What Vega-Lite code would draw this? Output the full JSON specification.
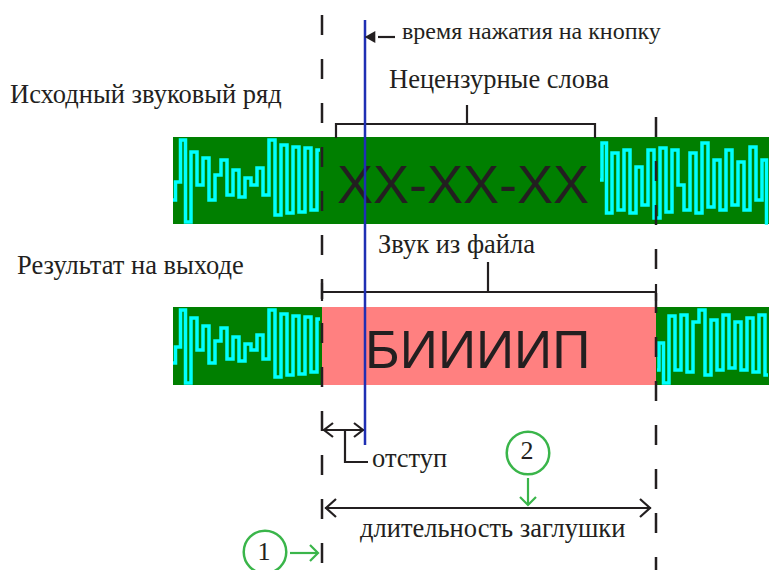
{
  "$schema": "https://vega.github.io/schema/vega-lite/v6.json",
  "width": 769,
  "height": 570,
  "padding": 0,
  "autosize": {"type": "none"},
  "background": "white",
  "config": {"view": {"stroke": null}},
  "datasets": {
    "bars": [
      {"x": 173, "x2": 769, "y": 137, "y2": 224, "k": "sound"},
      {"x": 173, "x2": 322, "y": 307, "y2": 385, "k": "sound"},
      {"x": 656, "x2": 769, "y": 307, "y2": 385, "k": "sound"},
      {"x": 322, "x2": 656, "y": 307, "y2": 385, "k": "beep"}
    ],
    "waves": [
      {"s":"a","x":173,"y":200},{"s":"a","x":178,"y":182},{"s":"a","x":183,"y":140},{"s":"a","x":188,"y":222},{"s":"a","x":194,"y":152},{"s":"a","x":200,"y":185},{"s":"a","x":206,"y":158},{"s":"a","x":212,"y":200},{"s":"a","x":218,"y":175},{"s":"a","x":224,"y":160},{"s":"a","x":230,"y":195},{"s":"a","x":236,"y":170},{"s":"a","x":242,"y":197},{"s":"a","x":248,"y":178},{"s":"a","x":254,"y":185},{"s":"a","x":260,"y":168},{"s":"a","x":266,"y":195},{"s":"a","x":272,"y":140},{"s":"a","x":278,"y":215},{"s":"a","x":284,"y":145},{"s":"a","x":290,"y":213},{"s":"a","x":296,"y":147},{"s":"a","x":302,"y":212},{"s":"a","x":308,"y":148},{"s":"a","x":314,"y":210},{"s":"a","x":320,"y":150},
      {"s":"b","x":600,"y":180},{"s":"b","x":604,"y":143},{"s":"b","x":609,"y":213},{"s":"b","x":615,"y":153},{"s":"b","x":621,"y":210},{"s":"b","x":627,"y":150},{"s":"b","x":633,"y":213},{"s":"b","x":639,"y":167},{"s":"b","x":645,"y":205},{"s":"b","x":651,"y":150},{"s":"b","x":657,"y":218},{"s":"b","x":663,"y":148},{"s":"b","x":669,"y":212},{"s":"b","x":675,"y":150},{"s":"b","x":681,"y":185},{"s":"b","x":687,"y":210},{"s":"b","x":693,"y":153},{"s":"b","x":699,"y":213},{"s":"b","x":705,"y":143},{"s":"b","x":711,"y":207},{"s":"b","x":717,"y":160},{"s":"b","x":723,"y":210},{"s":"b","x":729,"y":150},{"s":"b","x":735,"y":205},{"s":"b","x":741,"y":162},{"s":"b","x":747,"y":210},{"s":"b","x":753,"y":147},{"s":"b","x":759,"y":200},{"s":"b","x":765,"y":160},{"s":"b","x":768,"y":223},
      {"s":"c","x":173,"y":363},{"s":"c","x":178,"y":347},{"s":"c","x":183,"y":310},{"s":"c","x":188,"y":383},{"s":"c","x":194,"y":318},{"s":"c","x":200,"y":350},{"s":"c","x":206,"y":326},{"s":"c","x":212,"y":363},{"s":"c","x":218,"y":341},{"s":"c","x":224,"y":328},{"s":"c","x":230,"y":359},{"s":"c","x":236,"y":337},{"s":"c","x":242,"y":361},{"s":"c","x":248,"y":344},{"s":"c","x":254,"y":350},{"s":"c","x":260,"y":335},{"s":"c","x":266,"y":359},{"s":"c","x":272,"y":310},{"s":"c","x":278,"y":377},{"s":"c","x":284,"y":314},{"s":"c","x":290,"y":375},{"s":"c","x":296,"y":316},{"s":"c","x":302,"y":374},{"s":"c","x":308,"y":317},{"s":"c","x":314,"y":372},{"s":"c","x":320,"y":319},
      {"s":"d","x":657,"y":370},{"s":"d","x":661,"y":343},{"s":"d","x":666,"y":383},{"s":"d","x":672,"y":316},{"s":"d","x":678,"y":370},{"s":"d","x":684,"y":315},{"s":"d","x":690,"y":372},{"s":"d","x":696,"y":322},{"s":"d","x":702,"y":310},{"s":"d","x":708,"y":375},{"s":"d","x":714,"y":320},{"s":"d","x":720,"y":370},{"s":"d","x":726,"y":315},{"s":"d","x":732,"y":368},{"s":"d","x":738,"y":322},{"s":"d","x":744,"y":370},{"s":"d","x":750,"y":318},{"s":"d","x":756,"y":372},{"s":"d","x":762,"y":315},{"s":"d","x":768,"y":375}
    ],
    "paths": [
      {"id":"br1","c":"k","o":1,"x":336,"y":138},{"id":"br1","c":"k","o":2,"x":336,"y":124},{"id":"br1","c":"k","o":3,"x":595,"y":124},{"id":"br1","c":"k","o":4,"x":595,"y":138},
      {"id":"br1t","c":"k","o":1,"x":467,"y":105},{"id":"br1t","c":"k","o":2,"x":467,"y":124},
      {"id":"br2","c":"k","o":1,"x":322,"y":292},{"id":"br2","c":"k","o":2,"x":656,"y":292},
      {"id":"br2l","c":"k","o":1,"x":322,"y":283},{"id":"br2l","c":"k","o":2,"x":322,"y":301},
      {"id":"br2r","c":"k","o":1,"x":656,"y":284},{"id":"br2r","c":"k","o":2,"x":656,"y":301},
      {"id":"br2t","c":"k","o":1,"x":488,"y":262},{"id":"br2t","c":"k","o":2,"x":488,"y":292},
      {"id":"pt","c":"k","o":1,"x":378,"y":37},{"id":"pt","c":"k","o":2,"x":395,"y":37},
      {"id":"ot","c":"k","o":1,"x":323,"y":430},{"id":"ot","c":"k","o":2,"x":364,"y":430},
      {"id":"otl","c":"k","o":1,"x":333,"y":423},{"id":"otl","c":"k","o":2,"x":324,"y":430},{"id":"otl","c":"k","o":3,"x":333,"y":437},
      {"id":"otr","c":"k","o":1,"x":354,"y":423},{"id":"otr","c":"k","o":2,"x":363,"y":430},{"id":"otr","c":"k","o":3,"x":354,"y":437},
      {"id":"ld","c":"k","o":1,"x":345,"y":430},{"id":"ld","c":"k","o":2,"x":345,"y":462},{"id":"ld","c":"k","o":3,"x":368,"y":462},
      {"id":"dl","c":"k","o":1,"x":325,"y":508},{"id":"dl","c":"k","o":2,"x":651,"y":508},
      {"id":"dll","c":"k","o":1,"x":336,"y":499},{"id":"dll","c":"k","o":2,"x":326,"y":508},{"id":"dll","c":"k","o":3,"x":336,"y":517},
      {"id":"dlr","c":"k","o":1,"x":640,"y":499},{"id":"dlr","c":"k","o":2,"x":650,"y":508},{"id":"dlr","c":"k","o":3,"x":640,"y":517},
      {"id":"g2","c":"g","o":1,"x":528,"y":478},{"id":"g2","c":"g","o":2,"x":528,"y":505},
      {"id":"g2h","c":"g","o":1,"x":520,"y":497},{"id":"g2h","c":"g","o":2,"x":528,"y":505},{"id":"g2h","c":"g","o":3,"x":536,"y":497},
      {"id":"g1","c":"g","o":1,"x":290,"y":553},{"id":"g1","c":"g","o":2,"x":318,"y":553},
      {"id":"g1h","c":"g","o":1,"x":310,"y":545},{"id":"g1h","c":"g","o":2,"x":318,"y":553},{"id":"g1h","c":"g","o":3,"x":310,"y":561}
    ],
    "dashes": [
      {"x": 322, "y": 15, "y2": 572},
      {"x": 656, "y": 117, "y2": 572}
    ],
    "labels": [
      {"t": "Исходный звуковый ряд", "x": 10, "y": 103},
      {"t": "Нецензурные слова", "x": 389, "y": 88},
      {"t": "Звук из файла", "x": 378, "y": 253},
      {"t": "Результат на выходе", "x": 17, "y": 274},
      {"t": "отступ", "x": 372, "y": 467},
      {"t": "длительность заглушки", "x": 360, "y": 537}
    ],
    "note": [
      {"t": "время нажатия на кнопку", "x": 402, "y": 39}
    ],
    "digits": [
      {"t": "1", "x": 264, "y": 560},
      {"t": "2", "x": 527, "y": 459}
    ],
    "circles": [
      {"x": 265, "y": 552},
      {"x": 528, "y": 453}
    ],
    "big1": [
      {"t": "XX-XX-XX", "x": 337, "y": 203}
    ],
    "big2": [
      {"t": "БИИИИП", "x": 365, "y": 368}
    ],
    "press": [
      {"x": 365, "y": 20, "y2": 445}
    ],
    "head": [
      {"x": 370, "y": 37}
    ]
  },
  "encoding": {
    "x": {"field": "x", "type": "quantitative", "scale": {"domain": [0, 769], "nice": false, "zero": false}, "axis": null},
    "y": {"field": "y", "type": "quantitative", "scale": {"domain": [0, 570], "nice": false, "zero": false, "reverse": true}, "axis": null}
  },
  "layer": [
    {
      "data": {"name": "bars"},
      "mark": {"type": "rect"},
      "encoding": {
        "x2": {"field": "x2"},
        "y2": {"field": "y2"},
        "fill": {"field": "k", "type": "nominal", "scale": {"domain": ["sound", "beep"], "range": ["#007f00", "#ff8080"]}, "legend": null}
      }
    },
    {
      "data": {"name": "waves"},
      "mark": {"type": "line", "interpolate": "step", "color": "#00ffff", "strokeWidth": 3.5, "strokeJoin": "miter"},
      "encoding": {"detail": {"field": "s", "type": "nominal"}}
    },
    {
      "data": {"name": "big1"},
      "mark": {"type": "text", "align": "left", "baseline": "alphabetic", "font": "Liberation Sans", "fontSize": 54, "color": "#231f20"},
      "encoding": {"text": {"field": "t"}}
    },
    {
      "data": {"name": "big2"},
      "mark": {"type": "text", "align": "left", "baseline": "alphabetic", "font": "Liberation Sans", "fontSize": 53, "color": "#231f20"},
      "encoding": {"text": {"field": "t"}}
    },
    {
      "data": {"name": "dashes"},
      "mark": {"type": "rule", "color": "#231f20", "strokeWidth": 2.5, "strokeDash": [20, 24]},
      "encoding": {"y2": {"field": "y2"}}
    },
    {
      "data": {"name": "paths"},
      "mark": {"type": "line", "strokeWidth": 2.2, "strokeJoin": "miter"},
      "encoding": {
        "detail": {"field": "id", "type": "nominal"},
        "order": {"field": "o", "type": "quantitative"},
        "color": {"field": "c", "type": "nominal", "scale": {"domain": ["k", "g"], "range": ["#231f20", "#3ab54a"]}, "legend": null}
      }
    },
    {
      "data": {"name": "circles"},
      "mark": {"type": "point", "shape": "circle", "size": 1810, "filled": false, "color": "#3ab54a", "strokeWidth": 2.5, "opacity": 1}
    },
    {
      "data": {"name": "labels"},
      "mark": {"type": "text", "align": "left", "baseline": "alphabetic", "font": "Liberation Serif", "fontSize": 26.5, "color": "#231f20"},
      "encoding": {"text": {"field": "t"}}
    },
    {
      "data": {"name": "note"},
      "mark": {"type": "text", "align": "left", "baseline": "alphabetic", "font": "Liberation Serif", "fontSize": 24, "color": "#231f20"},
      "encoding": {"text": {"field": "t"}}
    },
    {
      "data": {"name": "digits"},
      "mark": {"type": "text", "align": "center", "baseline": "alphabetic", "font": "Liberation Serif", "fontSize": 26, "color": "#231f20"},
      "encoding": {"text": {"field": "t"}}
    },
    {
      "data": {"name": "press"},
      "mark": {"type": "rule", "color": "#1f2fb4", "strokeWidth": 2.5},
      "encoding": {"y2": {"field": "y2"}}
    },
    {
      "data": {"name": "head"},
      "mark": {"type": "point", "shape": "triangle-left", "size": 150, "filled": true, "color": "#231f20", "opacity": 1}
    }
  ]
}
